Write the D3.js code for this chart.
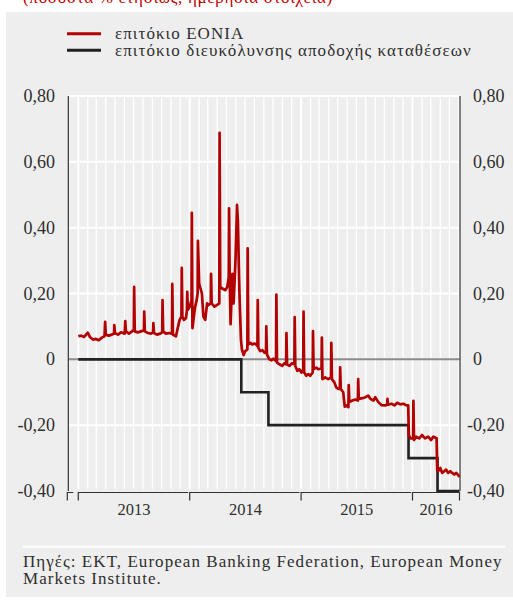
<!DOCTYPE html>
<html>
<head>
<meta charset="utf-8">
<script src="https://cdn.jsdelivr.net/npm/d3@7"></script>
<style>
  body { margin: 0; background: #fff; }
  text { font-family: "Liberation Serif", "Times New Roman", serif; fill: #2e2e2e; }
</style>
</head>
<body>
<svg id="chart" width="513" height="601"></svg>
<script>
"use strict";

// EONIA, ημερήσια (τιμές διαβασμένες από το γράφημα)
var eoniaDates = [
  "2013-01-01","2013-01-10","2013-01-20","2013-02-01","2013-02-08","2013-02-18","2013-02-28","2013-03-09",
  "2013-03-19","2013-03-28","2013-03-30","2013-04-01","2013-04-11","2013-04-21","2013-04-28","2013-04-29",
  "2013-05-01","2013-05-11","2013-05-21","2013-06-02","2013-06-04","2013-06-06","2013-06-16","2013-06-26",
  "2013-07-02","2013-07-03","2013-07-05","2013-07-15","2013-07-25","2013-08-04","2013-08-05","2013-08-07",
  "2013-08-17","2013-08-27","2013-09-03","2013-09-04","2013-09-06","2013-09-16","2013-09-26","2013-10-03",
  "2013-10-04","2013-10-06","2013-10-15","2013-10-25","2013-11-04","2013-11-05","2013-11-07","2013-11-17",
  "2013-11-24","2013-11-29","2013-12-05","2013-12-06","2013-12-08","2013-12-13","2013-12-20","2013-12-23",
  "2013-12-24","2013-12-26","2014-01-01",
  "2014-01-04","2014-01-07","2014-01-08","2014-01-10","2014-01-16","2014-01-19","2014-01-24","2014-01-27",
  "2014-01-28","2014-02-01","2014-02-10","2014-02-15","2014-02-21","2014-02-27","2014-03-04","2014-03-11",
  "2014-03-12","2014-03-14","2014-03-23","2014-03-31","2014-04-08","2014-04-09","2014-04-11","2014-04-18",
  "2014-04-28","2014-05-04","2014-05-09","2014-05-10","2014-05-12","2014-05-15","2014-05-21","2014-05-25",
  "2014-05-31","2014-06-04","2014-06-05","2014-06-08","2014-06-12","2014-06-14","2014-06-18","2014-06-21",
  "2014-06-27","2014-07-02","2014-07-09","2014-07-10","2014-07-12","2014-07-19","2014-07-25","2014-08-01",
  "2014-08-07","2014-08-11","2014-08-12","2014-08-14","2014-08-20","2014-08-27","2014-09-03","2014-09-08",
  "2014-09-09","2014-09-11","2014-09-19","2014-09-26","2014-10-02","2014-10-11","2014-10-12","2014-10-14",
  "2014-10-22","2014-10-31","2014-11-07","2014-11-13","2014-11-14","2014-11-16","2014-11-24","2014-12-02",
  "2014-12-10","2014-12-11","2014-12-13","2014-12-20","2014-12-26",
  "2015-01-02","2015-01-08","2015-01-09","2015-01-11","2015-01-18","2015-01-25","2015-01-31","2015-02-08",
  "2015-02-09","2015-02-11","2015-02-20","2015-02-26","2015-03-09","2015-03-10","2015-03-12","2015-03-21",
  "2015-03-31","2015-04-09","2015-04-10","2015-04-12","2015-04-20","2015-04-26","2015-05-03","2015-05-08",
  "2015-05-09","2015-05-11","2015-05-19","2015-05-24","2015-05-29","2015-06-05","2015-06-06","2015-06-08",
  "2015-06-18","2015-06-28","2015-07-06","2015-07-07","2015-07-09","2015-07-21","2015-07-31","2015-08-09",
  "2015-08-16","2015-08-26","2015-09-01","2015-09-11","2015-09-21","2015-10-04","2015-10-10","2015-10-11",
  "2015-10-13","2015-10-24","2015-11-03","2015-11-12","2015-11-22","2015-12-02","2015-12-12","2015-12-18",
  "2015-12-20","2015-12-25","2016-01-03",
  "2016-01-04","2016-01-06","2016-01-13","2016-01-23","2016-02-01","2016-02-11","2016-02-21","2016-03-02",
  "2016-03-09","2016-03-20","2016-03-22","2016-03-25","2016-04-01","2016-04-07","2016-04-14","2016-04-20",
  "2016-04-27","2016-05-04","2016-05-10","2016-05-17","2016-05-23","2016-05-30","2016-06-03"
];
var eoniaRates = [
  0.070,0.072,0.068,0.081,0.068,0.060,0.062,0.058,
  0.066,0.070,0.114,0.075,0.072,0.075,0.078,0.104,
  0.080,0.075,0.082,0.078,0.116,0.085,0.078,0.085,
  0.090,0.220,0.085,0.082,0.085,0.088,0.145,0.085,
  0.080,0.078,0.082,0.110,0.080,0.075,0.078,0.082,
  0.180,0.085,0.078,0.080,0.078,0.229,0.075,0.070,
  0.100,0.120,0.130,0.278,0.130,0.120,0.125,0.150,
  0.205,0.150,0.160,
  0.170,0.180,0.445,0.095,0.140,0.160,0.180,0.200,
  0.360,0.230,0.200,0.130,0.120,0.170,0.165,0.170,
  0.260,0.170,0.160,0.165,0.170,0.688,0.220,0.215,
  0.210,0.220,0.250,0.459,0.250,0.107,0.260,0.170,
  0.300,0.430,0.469,0.420,0.240,0.170,0.060,0.030,
  0.013,0.025,0.030,0.337,0.045,0.050,0.045,0.048,
  0.045,0.040,0.180,0.035,0.025,0.028,0.020,0.022,
  0.100,0.015,0.000,-0.003,0.002,-0.005,0.197,-0.010,
  -0.015,-0.020,-0.012,-0.015,0.080,-0.015,-0.020,-0.012,
  -0.015,0.128,-0.020,-0.035,-0.030,
  -0.040,-0.030,0.145,-0.040,-0.050,-0.045,-0.050,-0.040,
  0.086,-0.030,-0.025,-0.030,-0.028,0.066,-0.060,-0.055,
  -0.060,-0.055,0.050,-0.060,-0.070,-0.085,-0.090,-0.090,
  -0.024,-0.090,-0.100,-0.144,-0.140,-0.145,-0.078,-0.130,
  -0.125,-0.122,-0.125,-0.060,-0.120,-0.118,-0.115,-0.110,
  -0.120,-0.125,-0.115,-0.130,-0.139,-0.140,-0.138,-0.120,
  -0.138,-0.135,-0.140,-0.132,-0.137,-0.135,-0.140,-0.140,
  -0.230,-0.240,-0.240,
  -0.126,-0.245,-0.235,-0.240,-0.230,-0.240,-0.235,-0.245,
  -0.235,-0.240,-0.336,-0.340,-0.330,-0.345,-0.340,-0.335,
  -0.345,-0.340,-0.345,-0.350,-0.345,-0.352,-0.357
];

// επιτόκιο διευκόλυνσης αποδοχής καταθέσεων (βήματα)
var depositDates = ["2013-01-01", "2014-06-19", "2014-09-16", "2015-12-19", "2016-03-23", "2016-06-03"];
var depositRates = [0, -0.10, -0.20, -0.30, -0.40, -0.40];

var yTicks = [0.8, 0.6, 0.4, 0.2, 0, -0.2, -0.4];
var yearLabels = ["2013", "2014", "2015", "2016"];
var seriesNames = ["επιτόκιο EONIA", "επιτόκιο διευκόλυνσης αποδοχής καταθέσεων"];
var seriesColors = ["#b30000", "#222222"];

var parse = d3.timeParse("%Y-%m-%d");
var eonia = eoniaDates.map(function(d, i) { return { date: parse(d), value: eoniaRates[i] }; });
var deposit = depositDates.map(function(d, i) { return { date: parse(d), value: depositRates[i] }; });

var plotLeft = 68.3, plotRight = 459.5, plotTop = 96, plotBottom = 491;
var svg = d3.select("#chart");

var x = d3.scaleTime()
    .domain([parse("2012-11-26"), parse("2016-06-03")])
    .range([67.3, plotRight]);
var y = d3.scaleLinear()
    .domain([-0.4, 0.8])
    .range([plotBottom, plotTop]);

// fond
svg.append("text")
    .attr("x", 23).attr("y", 3)
    .style("fill", "#c00000")
    .style("letter-spacing", "0.7px")
    .attr("font-size", 17)
    .text("(ποσοστά % ετησίως, ημερήσια στοιχεία)");
svg.append("rect")
    .attr("x", 6).attr("y", 12)
    .attr("width", 507).attr("height", 585)
    .style("fill", "#eeeeee");

// grille verticale (mois)
var months = d3.timeMonth.range(parse("2013-01-01"), parse("2016-06-02"));
svg.append("g").selectAll("line")
    .data(months)
    .enter().append("line")
    .attr("x1", function(d) { return x(d); })
    .attr("x2", function(d) { return x(d); })
    .attr("y1", plotTop).attr("y2", plotBottom - 2)
    .style("stroke", "#ffffff")
    .attr("stroke-width", function(d) { return d.getMonth() === 0 ? 2 : 1.3; });

// grille horizontale
svg.append("g").selectAll("line")
    .data(yTicks.filter(function(d) { return d !== 0 && d !== -0.4; }))
    .enter().append("line")
    .attr("x1", plotLeft).attr("x2", plotRight)
    .attr("y1", function(d) { return y(d); })
    .attr("y2", function(d) { return y(d); })
    .style("stroke", "#ffffff")
    .attr("stroke-width", 2);

svg.append("line")
    .attr("x1", plotLeft).attr("x2", plotRight)
    .attr("y1", y(0)).attr("y2", y(0))
    .style("stroke", "#8c8c8c")
    .attr("stroke-width", 2);

// axes verticaux
[plotLeft, plotRight + 0.5].forEach(function(xx) {
  svg.append("line")
      .attr("x1", xx).attr("x2", xx)
      .attr("y1", plotTop).attr("y2", plotBottom)
      .style("stroke", "#333")
      .attr("stroke-width", 1.2);
});

function fmt(d) {
  return d === 0 ? "0" : d.toFixed(2).replace(".", ",");
}

svg.append("g").selectAll("text")
    .data(yTicks)
    .enter().append("text")
    .attr("x", 55)
    .attr("y", function(d) { return y(d) + 6; })
    .attr("text-anchor", "end")
    .attr("font-size", 18)
    .text(fmt);

svg.append("g").selectAll("text")
    .data(yTicks)
    .enter().append("text")
    .attr("x", function(d) { return d < 0 ? 467 : 473; })
    .attr("y", function(d) { return y(d) + 6; })
    .attr("font-size", 18)
    .text(fmt);

// séries
svg.append("clipPath").attr("id", "plot")
  .append("rect")
    .attr("x", plotLeft).attr("y", plotTop - 2)
    .attr("width", plotRight - plotLeft + 1).attr("height", plotBottom - plotTop + 4);

svg.append("path")
    .datum(deposit)
    .attr("clip-path", "url(#plot)")
    .attr("d", d3.line()
      .curve(d3.curveStepAfter)
      .x(function(d) { return x(d.date); })
      .y(function(d) { return y(d.value); }))
    .style("fill", "none")
    .style("stroke", seriesColors[1])
    .attr("stroke-width", 2.6);

svg.append("path")
    .datum(eonia)
    .attr("clip-path", "url(#plot)")
    .attr("d", d3.line()
      .x(function(d) { return x(d.date); })
      .y(function(d) { return y(d.value); }))
    .style("fill", "none")
    .style("stroke", seriesColors[0])
    .attr("stroke-width", 2.7)
    .attr("stroke-linejoin", "round");

// axe des années (crochets)
var bounds = [x.domain()[0]].concat(yearLabels.map(function(d) { return parse(d + "-01-01"); }));
bounds.push(x.domain()[1]);
var axisY = 492.5;
var axisG = svg.append("g").style("stroke", "#333").attr("stroke-width", 1.2);
for (var i = 0; i < bounds.length - 1; i++) {
  var x0 = x(bounds[i]), x1 = x(bounds[i + 1]);
  var end = i === 0 ? x0 + 6 : x1 - 1.5;
  axisG.append("path")
      .attr("d", "M" + x0 + "," + (axisY + 8) + "V" + axisY + "H" + end)
      .style("fill", "none");
}
axisG.append("path")
    .attr("d", "M" + x(bounds[bounds.length - 2]) + "," + axisY + "H" + x(bounds[bounds.length - 1]) + "V" + (axisY + 8))
    .style("fill", "none");

svg.append("g").selectAll("text")
    .data(yearLabels)
    .enter().append("text")
    .attr("x", function(d, i) { return (x(bounds[i + 1]) + x(bounds[i + 2])) / 2; })
    .attr("y", 515)
    .attr("text-anchor", "middle")
    .attr("font-size", 16.5)
    .text(function(d) { return d; });

// légende
var legend = svg.append("g").selectAll("g")
    .data(seriesNames)
    .enter().append("g")
    .attr("transform", function(d, i) { return "translate(0," + (i * 16.5) + ")"; });
legend.append("line")
    .attr("x1", 67).attr("x2", 101)
    .attr("y1", 33.7).attr("y2", 33.7)
    .style("stroke", function(d, i) { return seriesColors[i]; })
    .attr("stroke-width", 3);
legend.append("text")
    .attr("x", 115).attr("y", 39)
    .attr("font-size", 17)
    .style("letter-spacing", "1.07px")
    .text(function(d) { return d; });

// source
svg.append("line")
    .attr("x1", 23).attr("x2", 505)
    .attr("y1", 546.7).attr("y2", 546.7)
    .style("stroke", "#fff")
    .attr("stroke-width", 2);
svg.append("text")
    .attr("x", 23).attr("y", 567)
    .attr("font-size", 17)
    .style("letter-spacing", "1.05px")
    .text("Πηγές: EKT, European Banking Federation, European Money");
svg.append("text")
    .attr("x", 23).attr("y", 583.5)
    .attr("font-size", 17)
    .style("letter-spacing", "1.05px")
    .text("Markets Institute.");
</script>
</body>
</html>
